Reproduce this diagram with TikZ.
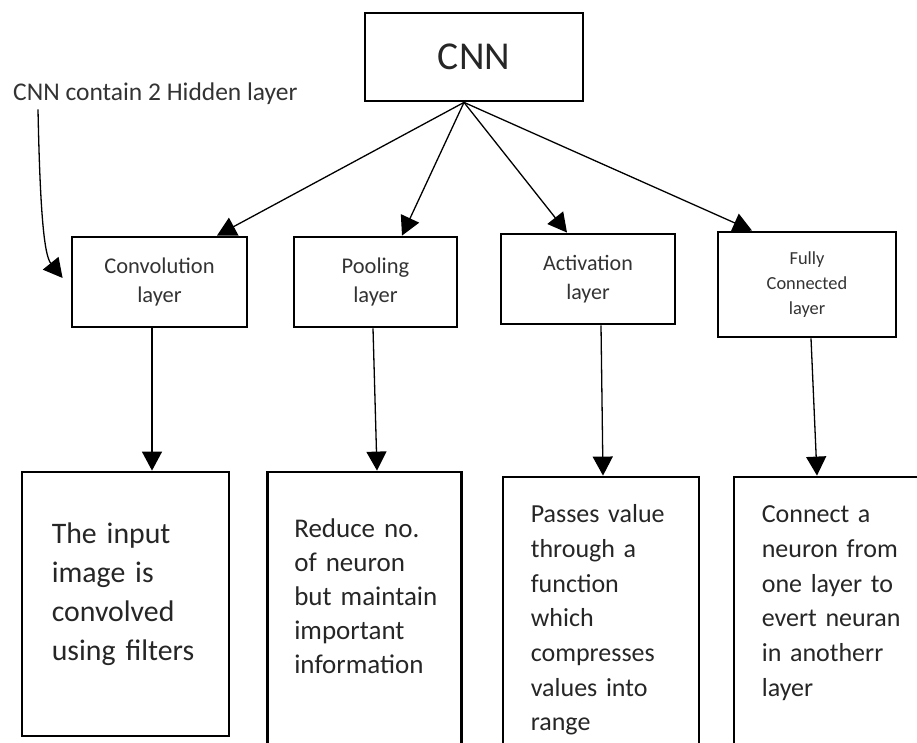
\documentclass[tikz,border=0pt]{standalone}
\usepackage{fontspec}
\setmainfont{Carlito}
\usetikzlibrary{arrows.meta,calc}

\begin{document}
\begin{tikzpicture}[x=1pt, y=-1pt,
	layerbox/.style={draw=black, line width=2.8pt, align=center, text=black!80, inner sep=0pt},
	infobox/.style={draw=black, line width=2.8pt, inner sep=0pt},
	infotext/.style={anchor=base west, align=left, text width=200pt, inner sep=0pt, text=black!85},
	arr/.style={line width=1.3pt, -{Triangle[length=19pt, width=20pt]}}]

	\useasboundingbox (0,0) rectangle (917,743);
	\clip (0,0) rectangle (917,743);

	% Define nodes with their coordinates
	\node[layerbox, minimum width=218, minimum height=88, text=black!85, font=\fontsize{39.5}{47}\selectfont] (cnn) at (474, 57) {CNN};
	\node[anchor=base west, inner sep=0pt, text=black!80, font=\fontsize{25.5}{30}\selectfont] (note) at (13, 101) {CNN contain 2 Hidden layer};

	\node[layerbox, minimum width=175, minimum height=90, font=\fontsize{22.5}{29}\selectfont] (conv) at (159.5, 282) {Convolution\\layer};
	\node[layerbox, minimum width=163, minimum height=90, font=\fontsize{22.5}{29}\selectfont] (pool) at (375.5, 282) {Pooling\\layer};
	\node[layerbox, minimum width=174, minimum height=90, font=\fontsize{22}{29}\selectfont] (act) at (588, 279) {Activation\\layer};
	\node[layerbox, minimum width=178, minimum height=105, font=\fontsize{18.4}{25}\selectfont] (fc) at (807, 284.5) {Fully\\Connected\\layer};

	\node[infobox, minimum width=207, minimum height=264] (inp) at (125.5, 604) {};
	\node[infobox, minimum width=194, minimum height=300] (red) at (364.5, 622) {};
	\node[infobox, minimum width=196, minimum height=300] (pas) at (601, 627) {};
	\node[infobox, minimum width=191, minimum height=300] (con) at (829.5, 627) {};

	% Texts of the lower boxes
	\node[infotext, font=\fontsize{29.8}{39}\selectfont] at ($(inp.north west)+(31,73)$) {The input\\image is\\convolved\\using filters};
	\node[infotext, font=\fontsize{27}{34}\selectfont] at ($(red.north west)+(28,67)$) {Reduce no.\\of neuron\\but maintain\\important\\information};
	\node[infotext, font=\fontsize{26}{34.7}\selectfont] at ($(pas.north west)+(29,47)$) {Passes value\\through a\\function\\which\\compresses\\values into\\range};
	\node[infotext, font=\fontsize{26}{34.7}\selectfont] at ($(con.north west)+(29,47)$) {Connect a\\neuron from\\one layer to\\evert neuran\\in anotherr\\layer};

	% Draw edges
	\draw[arr] ([xshift=-10pt]cnn.south) -- ([xshift=57.5pt]conv.north);
	\draw[arr] ([xshift=-10pt]cnn.south) -- ([xshift=26.5pt]pool.north);
	\draw[arr] ([xshift=-10pt]cnn.south) -- ([xshift=-21pt]act.north);
	\draw[arr] ([xshift=-10pt]cnn.south) -- ([xshift=-55pt]fc.north);

	\draw[arr] ([xshift=-7.5pt]conv.south) -- ([xshift=26.5pt]inp.north);
	\draw[arr] ([xshift=-2.5pt]pool.south) -- ([xshift=12.5pt]red.north);
	\draw[arr] ([xshift=13pt]act.south) -- ([xshift=2pt]pas.north);
	\draw[arr] ([xshift=4pt]fc.south) -- ([xshift=-12.5pt]con.north);

	% note pointing to the first layer
	\draw[arr] ([xshift=25pt, yshift=-4pt]note.south west) .. controls (40, 210) and (44, 255) .. ([xshift=-8pt, yshift=4pt]conv.west);

\end{tikzpicture}
\end{document}
